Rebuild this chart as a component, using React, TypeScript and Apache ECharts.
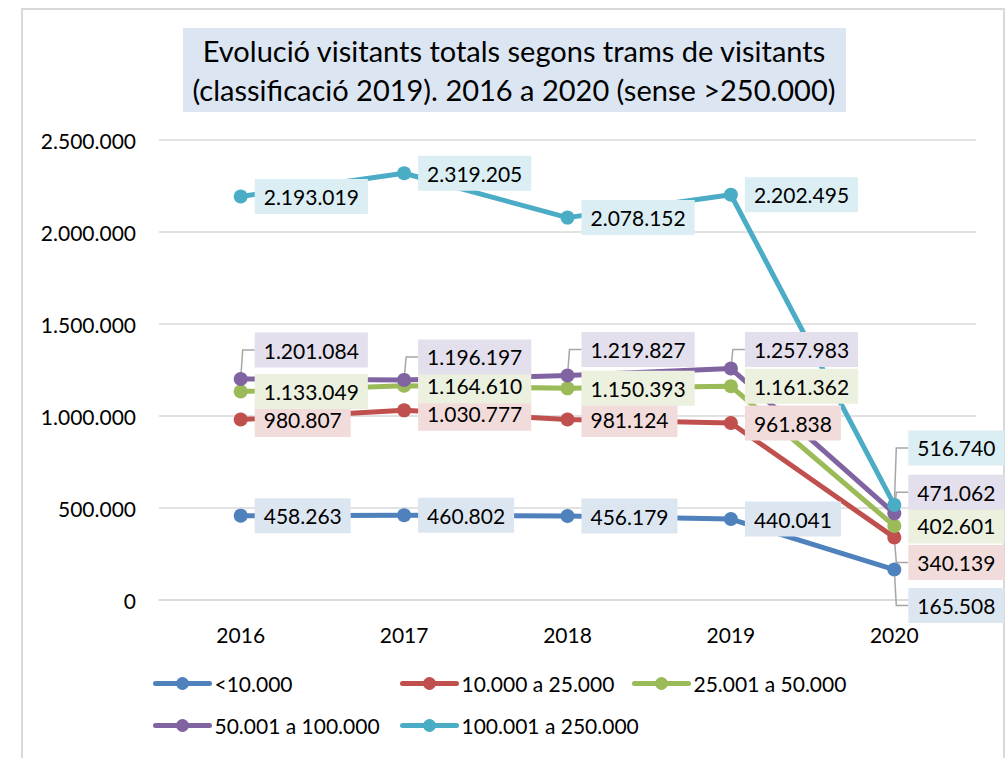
import React, { useEffect, useRef } from "react";
import * as echarts from "echarts";

const years = ["2016", "2017", "2018", "2019", "2020"];
const seriesNames = ["<10.000", "10.000 a 25.000", "25.001 a 50.000", "50.001 a 100.000", "100.001 a 250.000"];
const under10k = [458263, 460802, 456179, 440041, 165508];
const from10kTo25k = [980807, 1030777, 981124, 961838, 340139];
const from25kTo50k = [1133049, 1164610, 1150393, 1161362, 402601];
const from50kTo100k = [1201084, 1196197, 1219827, 1257983, 471062];
const from100kTo250k = [2193019, 2319205, 2078152, 2202495, 516740];
const yTicks = [0, 500000, 1000000, 1500000, 2000000, 2500000];

const allValues = [under10k, from10kTo25k, from25kTo50k, from50kTo100k, from100kTo250k];
const lineColors = ["#4f81bd", "#c0504d", "#9bbb59", "#8064a2", "#4bacc6"];
const labelBgs = ["#dce6f1", "#f2dcdb", "#ebf1de", "#e4dfec", "#daeef3"];
// vertical shift of each label (px) and whether it has a leader line
const labelShift = [
  [0, 0, 0, 0, 36],
  [0, 3, 0, 0, 25],
  [0, 0, 0, 0, 0],
  [-29, -23, -26, -19, -21],
  [0, 0, 0, 0, -57],
];
const leader = [
  [false, false, false, false, true],
  [false, false, false, false, true],
  [false, false, false, false, false],
  [true, true, true, true, true],
  [false, false, false, false, true],
];
const legendLefts = [153, 400, 632, 153, 400];
const legendTops = [673, 673, 673, 715, 715];

const FONT = "Lato";
const fmt = (n: number) => String(n).replace(/\B(?=(\d{3})+(?!\d))/g, ".");

export default function App() {
  const ref = useRef<HTMLDivElement>(null);
  useEffect(() => {
    if (!ref.current) return;
    const chart = echarts.init(ref.current, null, { renderer: "svg" });
    const series = allValues.map((vals, si) => ({
      name: seriesNames[si],
      type: "line",
      data: vals.map((v, di) => ({
        value: v,
        labelLine: { show: leader[si][di] },
      })),
      symbol: "circle",
      symbolSize: 14,
      color: lineColors[si],
      lineStyle: { width: 5, color: lineColors[si], cap: "round", join: "round" },
      itemStyle: { color: lineColors[si] },
      label: {
        show: true,
        position: "right",
        distance: 7,
        formatter: (p: any) => fmt(p.value),
        color: "#000",
        fontFamily: FONT,
        fontSize: 21,
        lineHeight: 25,
        backgroundColor: labelBgs[si],
        padding: [5, 9],
      },
      labelLine: {
        show: true,
        length2: 12,
        minTurnAngle: 0,
        lineStyle: { color: "#a6a6a6", width: 1.5 },
      },
      labelLayout: (p: any) => ({ dy: labelShift[si][p.dataIndex] }),
    }));
    chart.setOption({
      animation: false,
      textStyle: { fontFamily: FONT },
      grid: { left: 159, right: 30, top: 140, bottom: 158 },
      xAxis: {
        type: "category",
        data: years,
        boundaryGap: true,
        axisLine: { show: true, lineStyle: { color: "#d9d9d9", width: 1.5 } },
        axisTick: { show: false },
        axisLabel: { color: "#000", fontSize: 21, fontFamily: FONT, margin: 24 },
      },
      yAxis: {
        type: "value",
        min: yTicks[0],
        max: yTicks[yTicks.length - 1],
        interval: 500000,
        axisLine: { show: false },
        axisTick: { show: false },
        splitLine: { lineStyle: { color: "#d9d9d9", width: 1.5 } },
        axisLabel: { color: "#000", fontSize: 21, fontFamily: FONT, margin: 23, formatter: (v: number) => fmt(v) },
      },
      legend: seriesNames.map((n, i) => ({
        data: [n],
        left: legendLefts[i],
        top: legendTops[i],
        padding: 0,
        itemWidth: 54,
        itemHeight: 16,
        lineStyle: { width: 5 },
        textStyle: { color: "#000", fontSize: 21, fontFamily: FONT },
      })),
      graphic: [
        {
          type: "rect",
          shape: { x: 22, y: 9, width: 982, height: 770 },
          style: { fill: "none", stroke: "#d9d9d9", lineWidth: 2 },
          silent: true,
        },
        {
          type: "rect",
          shape: { x: 183, y: 28, width: 663, height: 84 },
          style: { fill: "#dce6f2" },
          silent: true,
        },
        {
          type: "text",
          x: 514,
          y: 70,
          style: {
            text: "Evolució visitants totals segons trams de visitants\n(classificació 2019). 2016 a 2020 (sense >250.000)",
            fontFamily: FONT,
            fontSize: 29,
            lineHeight: 39,
            fill: "#000",
            align: "center",
            verticalAlign: "middle",
          },
        },
      ],
      series,
    });
    return () => chart.dispose();
  }, []);
  return (
    <div
      ref={ref}
      style={{ position: "fixed", left: 0, top: 0, width: 1006, height: 758, background: "#fff" }}
    />
  );
}
